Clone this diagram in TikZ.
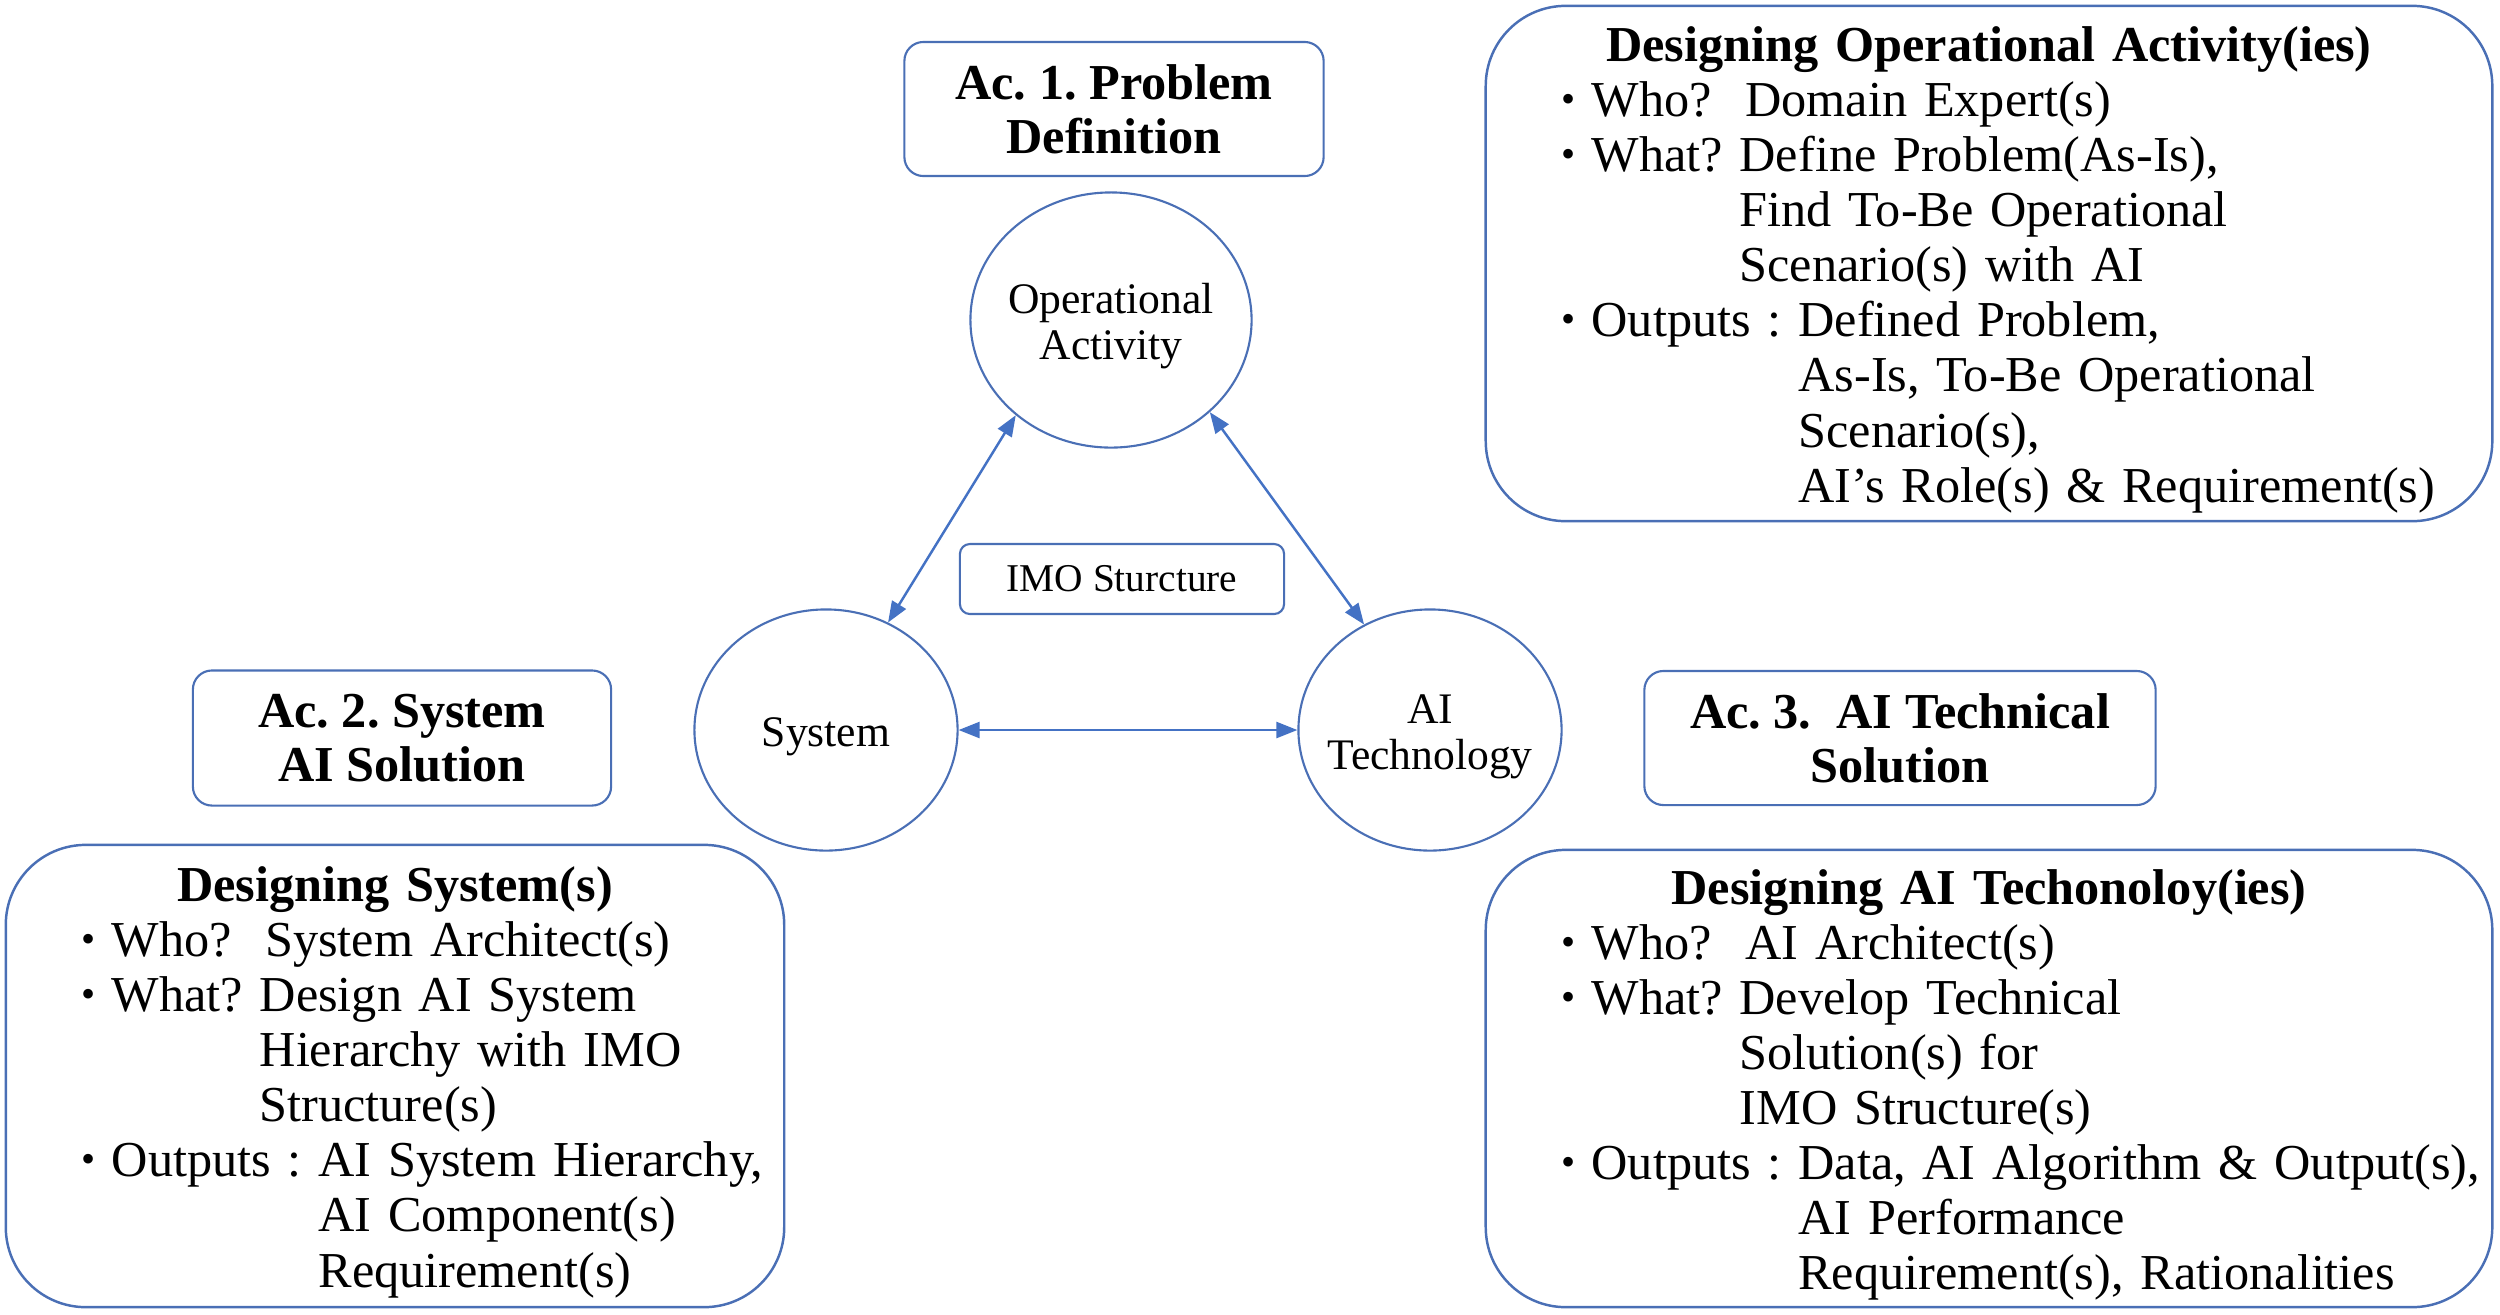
\documentclass[tikz,border=0pt]{standalone}
\usepackage{fontspec}
\setmainfont{Liberation Serif}
\usepackage{tikz}
\usetikzlibrary{positioning,arrows.meta,shapes.geometric}
\definecolor{lineblue}{HTML}{4A6FB5}
\definecolor{arrowblue}{HTML}{4472C4}
\frenchspacing
\newcommand{\bul}{\makebox[8.5pt][l]{\raisebox{0.08em}{\scalebox{0.8}{•}}}}
\newcommand{\gap}[1]{\hphantom{\bul #1\ }}
\newcommand{\boxtitle}[1]{\makebox[\linewidth]{\rule{0pt}{13.5pt}\bfseries #1}\\}
\newcommand{\circtext}[1]{\makebox[0pt]{\raisebox{-2pt}[\height][\depth]{\begin{tabular}{@{}c@{}}#1\end{tabular}}}}

\begin{document}
\begin{tikzpicture}[x=0.01cm,y=-0.01cm,
    acbox/.style={draw=lineblue,line width=0.6pt,rounded corners=0.19cm,align=center,
                  font=\fontsize{14.3}{15.3}\selectfont\bfseries,inner sep=0pt},
    bigbox/.style={draw=lineblue,line width=0.7pt,rounded corners=0.8cm,align=left,
                   font=\fontsize{14.3}{15.65}\selectfont,inner sep=0pt},
    actcircle/.style={draw=lineblue,line width=0.6pt,ellipse,
                      font=\fontsize{12.4}{13.2}\selectfont,inner sep=0pt},
    imobox/.style={draw=lineblue,line width=0.6pt,rounded corners=0.1cm,
                   font=\fontsize{11.2}{12}\selectfont,inner sep=0pt},
    biarrow/.style={draw=arrowblue,line width=0.7pt,
                    {Triangle[length=0.21cm,width=0.16cm]}-{Triangle[length=0.21cm,width=0.16cm]}}]
  \useasboundingbox (0,0) rectangle (2500,1314);

  % activity titles
  \node[acbox,minimum width=4.19cm,minimum height=1.34cm] (ac1) at (1114,109) {Ac. 1. Problem\\Definition};
  \node[acbox,minimum width=4.18cm,minimum height=1.35cm] (ac2) at (402,738) {Ac. 2. System\\AI Solution};
  \node[acbox,minimum width=5.11cm,minimum height=1.34cm] (ac3) at (1900,738) {Ac. 3.\ \ AI Technical\\Solution};

  % IMO triangle
  \node[actcircle,minimum width=2.81cm,minimum height=2.55cm] (oa) at (1111,320) {\circtext{Operational\\Activity}};
  \node[actcircle,minimum width=2.63cm,minimum height=2.41cm] (sys) at (826,730) {\circtext{System}};
  \node[actcircle,minimum width=2.63cm,minimum height=2.41cm] (ai) at (1430,730) {\circtext{AI\\Technology}};
  \node[imobox,minimum width=3.24cm,minimum height=0.70cm] (imo) at (1122,579) {IMO Sturcture};

  \draw[biarrow] (oa.225) -- (sys.60);
  \draw[biarrow] (oa.317) -- (ai.122);
  \draw[biarrow] (sys.east) -- (ai.west);

  % design boxes
  \node[bigbox,minimum width=10.06cm,minimum height=5.15cm,text width=8.54cm] (doabox) at (1989,263.5) {%
    \boxtitle{Designing Operational Activity(ies)}
    \mbox{\bul Who?\ \ Domain Expert(s)}\\
    \mbox{\bul What? Define Problem(As-Is),}\\
    \mbox{\gap{What?}Find To-Be Operational}\\
    \mbox{\gap{What?}Scenario(s) with AI}\\
    \mbox{\bul Outputs : Defined Problem,}\\
    \mbox{\gap{Outputs :}As-Is, To-Be Operational}\\
    \mbox{\gap{Outputs :}Scenario(s),}\\
    \mbox{\gap{Outputs :}AI’s Role(s) \& Requirement(s)}};

  \node[bigbox,minimum width=7.78cm,minimum height=4.62cm,text width=6.26cm] (dsbox) at (395,1076) {%
    \boxtitle{Designing System(s)}
    \mbox{\bul Who?\ \ System Architect(s)}\\
    \mbox{\bul What? Design AI System}\\
    \mbox{\gap{What?}Hierarchy with IMO}\\
    \mbox{\gap{What?}Structure(s)}\\
    \mbox{\bul Outputs : AI System Hierarchy,}\\
    \mbox{\gap{Outputs :}AI Component(s)}\\
    \mbox{\gap{Outputs :}Requirement(s)}};

  \node[bigbox,minimum width=10.06cm,minimum height=4.57cm,text width=8.54cm] (daibox) at (1989,1078.5) {%
    \boxtitle{Designing AI Techonoloy(ies)}
    \mbox{\bul Who?\ \ AI Architect(s)}\\
    \mbox{\bul What? Develop Technical}\\
    \mbox{\gap{What?}Solution(s) for}\\
    \mbox{\gap{What?}IMO Structure(s)}\\
    \mbox{\bul Outputs : Data, AI Algorithm \& Output(s),}\\
    \mbox{\gap{Outputs :}AI Performance}\\
    \mbox{\gap{Outputs :}Requirement(s), Rationalities}};
\end{tikzpicture}
\end{document}
